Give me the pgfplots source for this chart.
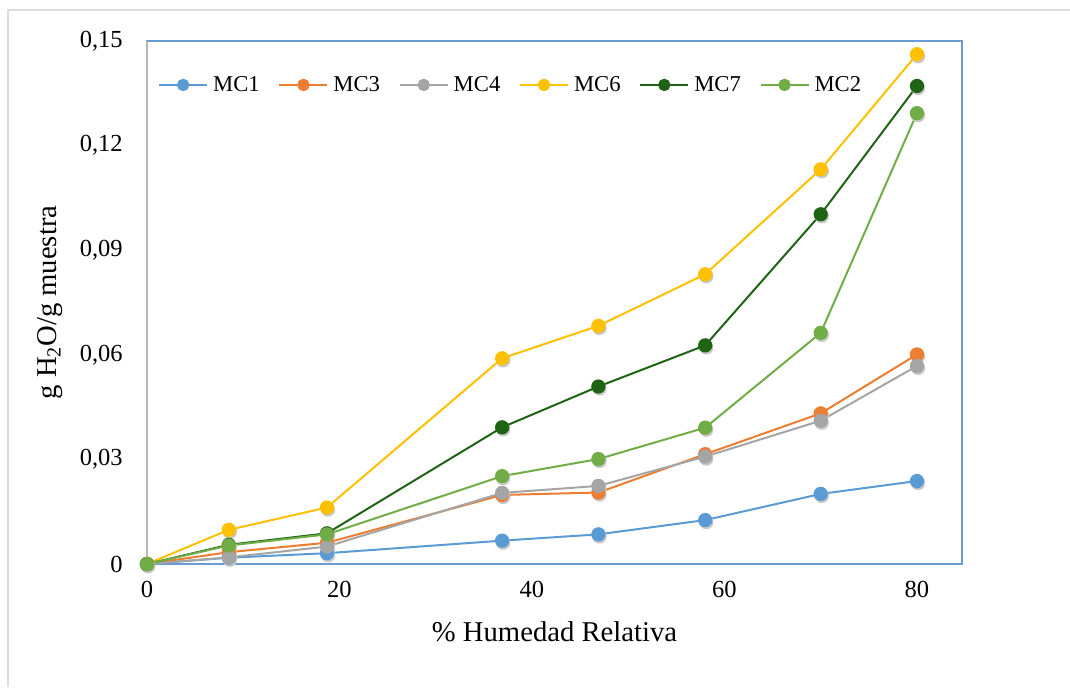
\documentclass[border=0pt]{standalone}
\usepackage{fontspec}
\setmainfont{Liberation Serif}
\usepackage{pgfplots}
\pgfplotsset{compat=1.18}
\usepackage{pgfplotstable}

\definecolor{cMCone}{HTML}{5B9BD5}
\definecolor{cMCthree}{HTML}{ED7D31}
\definecolor{cMCfour}{HTML}{A5A5A5}
\definecolor{cMCsix}{HTML}{FFC000}
\definecolor{cMCseven}{HTML}{1E6414}
\definecolor{cMCtwo}{HTML}{70AD47}
\definecolor{boxblue}{HTML}{6A9BD2}
\definecolor{framegray}{HTML}{DCDCDC}
\definecolor{shadowgray}{HTML}{C8C8C8}

% relative humidity (%) vs. moisture content (g H2O / g sample)
\pgfplotstableread{
rh    mc1     mc3     mc4     mc6     mc7     mc2
0     0.0000  0.0000  0.0000  0.0000  0.0000  0.0000
8.5   0.0018  0.0034  0.0019  0.0098  0.0055  0.0053
18.7  0.0031  0.0061  0.0050  0.0162  0.0088  0.0085
36.9  0.0067  0.0198  0.0204  0.0590  0.0392  0.0252
46.9  0.0085  0.0205  0.0224  0.0683  0.0509  0.0301
58.0  0.0126  0.0315  0.0308  0.0831  0.0627  0.0391
70.0  0.0201  0.0432  0.0411  0.1132  0.1003  0.0663
80.0  0.0238  0.0601  0.0568  0.1462  0.1371  0.1293
}\sorption

\pgfplotsset{
  series/.style={color=#1, mark options={fill=#1, draw=#1}},
  markshadow/.style={only marks, forget plot, mark=*, mark size=4.6pt, color=shadowgray,
    mark options={draw=none, fill=shadowgray, xshift=0.8pt, yshift=-1.5pt}},
}

\begin{document}
\begin{tikzpicture}
\useasboundingbox (0,0) rectangle (802.5pt,515.25pt);
\draw[framegray, line width=0.8pt] (6pt,0) -- (6pt,507.75pt) -- (802.5pt,507.75pt);
\begin{axis}[
  at={(110.25pt,92.25pt)}, anchor=south west,
  scale only axis, width=611.25pt, height=392.25pt,
  xmin=0, xmax=84.68, ymin=0, ymax=0.15,
  clip=false,
  axis line style={boxblue, line width=1.1pt},
  major tick length=0pt,
  xtick={0,20,40,60,80},
  xticklabels={0,20,40,60,80},
  ytick={0,0.03,0.06,0.09,0.12,0.15},
  yticklabels={0,{0,03},{0,06},{0,09},{0,12},{0,15}},
  ticklabel style={font=\fontsize{18.4}{22}\selectfont, inner sep=0pt},
  xticklabel style={anchor=north, yshift=-12.75pt},
  yticklabel style={anchor=east, xshift=-18pt},
  xlabel={\% Humedad Relativa},
  ylabel={g H\textsubscript{2}O/g muestra},
  label style={font=\fontsize{21.5}{26}\selectfont, inner sep=0pt},
  xlabel style={at={(axis description cs:0.5,0)}, anchor=north, yshift=-43pt},
  ylabel style={at={(axis description cs:-0.119,0.5)}, anchor=center, rotate=0},
  legend columns=6,
  legend style={at={(0.445,0.916)}, anchor=center, draw=none, fill=none,
    font=\fontsize{17}{20}\selectfont,
    nodes={inner sep=0pt},
    /tikz/every odd column/.append style={column sep=3.75pt},
    /tikz/every even column/.append style={column sep=14pt}},
  legend image code/.code={
    \draw[mark repeat=2, mark phase=2, #1, mark size=3.9pt] plot coordinates {(0pt,0pt) (18pt,0pt) (36pt,0pt)};
  },
  every axis plot/.append style={line width=1.5pt, mark=*, mark size=4.6pt},
]
\draw[framegray!60!gray, line width=1.1pt] (axis cs:0,0) -- (axis cs:0,0.15);
% soft shadows under the markers
\addplot[markshadow] table[x=rh, y=mc1] {\sorption};
\addplot[markshadow] table[x=rh, y=mc3] {\sorption};
\addplot[markshadow] table[x=rh, y=mc4] {\sorption};
\addplot[markshadow] table[x=rh, y=mc6] {\sorption};
\addplot[markshadow] table[x=rh, y=mc7] {\sorption};
\addplot[markshadow] table[x=rh, y=mc2] {\sorption};
% series
\addplot[series=cMCone] table[x=rh, y=mc1] {\sorption};
\addlegendentry{MC1}
\addplot[series=cMCthree] table[x=rh, y=mc3] {\sorption};
\addlegendentry{MC3}
\addplot[series=cMCfour] table[x=rh, y=mc4] {\sorption};
\addlegendentry{MC4}
\addplot[series=cMCsix] table[x=rh, y=mc6] {\sorption};
\addlegendentry{MC6}
\addplot[series=cMCseven] table[x=rh, y=mc7] {\sorption};
\addlegendentry{MC7}
\addplot[series=cMCtwo] table[x=rh, y=mc2] {\sorption};
\addlegendentry{MC2}
\end{axis}
\end{tikzpicture}
\end{document}
